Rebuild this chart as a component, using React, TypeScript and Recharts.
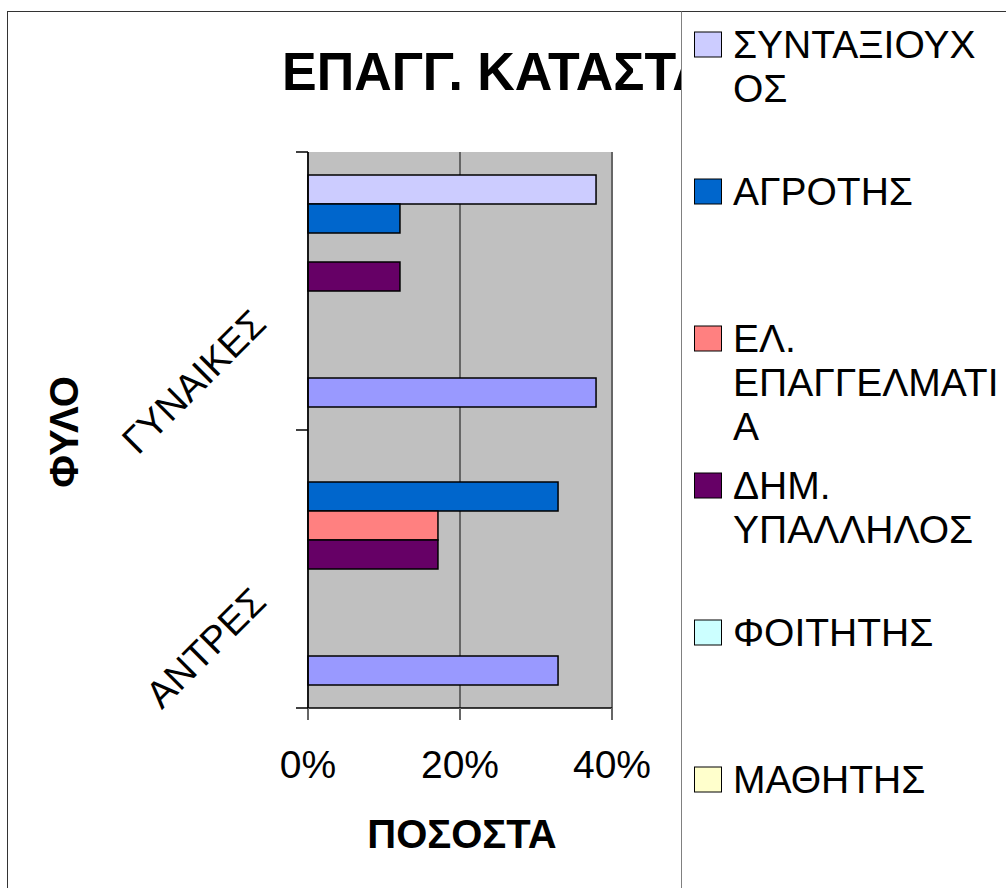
import { BarChart, Bar, XAxis, YAxis, CartesianGrid, Legend } from 'recharts';

const categories = ['ΓΥΝΑΙΚΕΣ', 'ΑΝΤΡΕΣ'];

const syntaxiouxos = [37.9, 0];
const agrotis = [12.1, 32.9];
const elEpaggelmatias = [0, 17.1];
const dimYpallilos = [12.1, 17.1];
const foititis = [0, 0];
const mathitis = [0, 0];
const series7 = [0, 0];
const series8 = [37.9, 32.9];

const seriesKeys = ['synt', 'agr', 'el', 'dim', 'foit', 'math', 's7', 's8'];
const seriesValues = [syntaxiouxos, agrotis, elEpaggelmatias, dimYpallilos, foititis, mathitis, series7, series8];
const seriesColors = ['#CCCCFF', '#0066CC', '#FF8080', '#660066', '#CCFFFF', '#FFFFCC', '#993366', '#9999FF'];

// legend text as wrapped in the original (only the first six entries are visible)
const legendLines = [
  ['ΣΥΝΤΑΞΙΟΥΧ', 'ΟΣ'],
  ['ΑΓΡΟΤΗΣ'],
  ['ΕΛ.', 'ΕΠΑΓΓΕΛΜΑΤΙ', 'Α'],
  ['ΔΗΜ.', 'ΥΠΑΛΛΗΛΟΣ'],
  ['ΦΟΙΤΗΤΗΣ'],
  ['ΜΑΘΗΤΗΣ'],
];

const xTicks = [0, 20, 40];

const data = categories.map((name, i) => {
  const row: Record<string, string | number> = { name };
  seriesKeys.forEach((k, s) => { row[k] = seriesValues[s][i]; });
  return row;
});

const FONT = '"Liberation Sans", Arial, sans-serif';

function CategoryTick(props: any) {
  const { x, y, payload, index } = props;
  const half = payload?.offset ?? 139;
  return (
    <g>
      <line x1={x} x2={x + 12} y1={y - half} y2={y - half} stroke="#000" strokeWidth={1.5} />
      {index === categories.length - 1 && (
        <line x1={x} x2={x + 12} y1={y + half} y2={y + half} stroke="#000" strokeWidth={1.5} />
      )}
      <text
        transform={`translate(${x - 28},${y + 35}) rotate(-45)`}
        textAnchor="end"
        fontSize={38}
        fontFamily={FONT}
        fill="#000"
      >
        {payload.value}
      </text>
    </g>
  );
}

function LegendBox() {
  return (
    <svg width={330} height={880} style={{ display: 'block' }}>
      {legendLines.map((lines, i) => (
        <g key={i}>
          <rect x={12.5} y={20 + i * 147} width={27} height={25} fill={seriesColors[i]} stroke="#000" strokeWidth={1} />
          {lines.map((ln, j) => (
            <text key={j} x={51} y={46 + i * 147 + j * 44} fontSize={39} fontFamily={FONT} fill="#000">
              {ln}
            </text>
          ))}
        </g>
      ))}
    </svg>
  );
}

export default function App() {
  return (
    <div
      style={{
        position: 'absolute',
        left: 0,
        top: 0,
        width: 1006,
        height: 888,
        overflow: 'hidden',
        background: '#fff',
        fontFamily: FONT,
      }}
    >
      <BarChart
        width={1006}
        height={888}
        data={data}
        layout="vertical"
        margin={{ top: 152, right: 394, bottom: 80, left: 0 }}
        barCategoryGap={23}
        barGap={0}
      >
        <defs>
          <clipPath id="titleClip">
            <rect x={0} y={0} width={681} height={150} />
          </clipPath>
        </defs>
        <rect x={7.5} y={11.5} width={1100} height={1000} fill="none" stroke="#333" strokeWidth={1} />
        <g clipPath="url(#titleClip)">
          <text
            transform="translate(282,90) scale(0.98,1)"
            fontSize={53}
            fontWeight="bold"
            fontFamily={FONT}
            fill="#000"
          >
            ΕΠΑΓΓ. ΚΑΤΑΣΤΑΣΗ
          </text>
        </g>
        <CartesianGrid horizontal={false} stroke="#666" strokeWidth={2} fill="#C0C0C0" />
        <XAxis
          type="number"
          domain={[0, 40]}
          ticks={xTicks}
          tickFormatter={(v) => `${v}%`}
          height={100}
          axisLine={{ stroke: '#000', strokeWidth: 1.5 }}
          tickLine={{ stroke: '#666', strokeWidth: 2 }}
          tickSize={12}
          tickMargin={30}
          tick={{ fill: '#000', fontSize: 39, fontFamily: FONT }}
        />
        <YAxis
          type="category"
          dataKey="name"
          width={308}
          axisLine={{ stroke: '#000', strokeWidth: 1.5 }}
          tickLine={false}
          tickSize={12}
          tickMargin={0}
          tick={CategoryTick}
        />
        {seriesKeys.map((k, s) => (
          <Bar
            key={k}
            dataKey={k}
            fill={seriesColors[s]}
            stroke="#000"
            strokeWidth={1.5}
            isAnimationActive={false}
          />
        ))}
        <text
          transform="translate(78,432) rotate(-90)"
          textAnchor="middle"
          fontSize={40}
          fontWeight="bold"
          fontFamily={FONT}
          fill="#000"
        >
          ΦΥΛΟ
        </text>
        <text x={462} y={848} textAnchor="middle" fontSize={40} fontWeight="bold" fontFamily={FONT} fill="#000">
          ΠΟΣΟΣΤΑ
        </text>
        <Legend
          layout="vertical"
          align="center"
          verticalAlign="middle"
          wrapperStyle={{
            left: 681,
            top: 11,
            width: 330,
            height: 880,
            background: '#fff',
            borderLeft: '1px solid #808080',
            borderTop: '1px solid #333',
            margin: 0,
          }}
          content={() => <LegendBox />}
        />
      </BarChart>
    </div>
  );
}
